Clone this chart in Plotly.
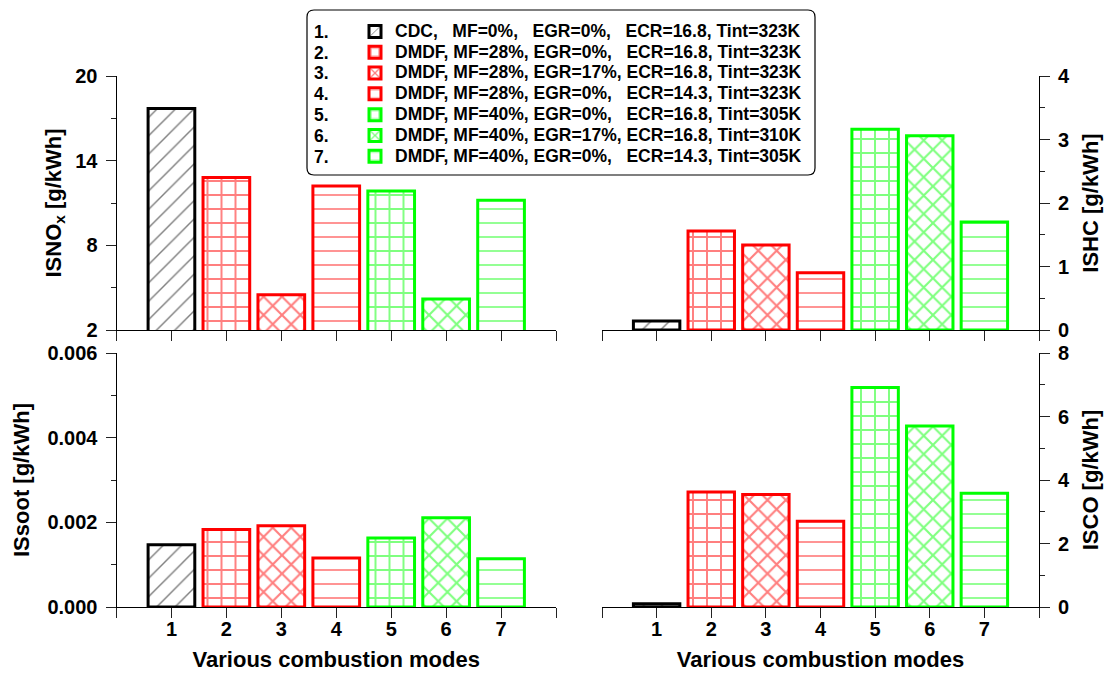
import plotly.graph_objects as go

# ---------------- data ----------------
modes = [1, 2, 3, 4, 5, 6, 7]
mode_ticktext = ["1", "2", "3", "4", "5", "6", "7"]
axis_end_ticks = [0, 8]
mode_numbers = ["1.", "2.", "3.", "4.", "5.", "6.", "7."]
legend_labels = [
    "CDC,   MF=0%,   EGR=0%,   ECR=16.8, Tint=323K",
    "DMDF, MF=28%, EGR=0%,   ECR=16.8, Tint=323K",
    "DMDF, MF=28%, EGR=17%, ECR=16.8, Tint=323K",
    "DMDF, MF=28%, EGR=0%,   ECR=14.3, Tint=323K",
    "DMDF, MF=40%, EGR=0%,   ECR=16.8, Tint=305K",
    "DMDF, MF=40%, EGR=17%, ECR=16.8, Tint=310K",
    "DMDF, MF=40%, EGR=0%,   ECR=14.3, Tint=305K",
]
isnox = [17.7, 12.8, 4.5, 12.2, 11.85, 4.2, 11.2]
ishc = [0.14, 1.56, 1.34, 0.90, 3.16, 3.06, 1.70]
issoot = [0.00147, 0.00183, 0.00192, 0.00116, 0.00163, 0.00211, 0.00114]
isco = [0.10, 3.62, 3.54, 2.70, 6.91, 5.70, 3.58]

colors = ["#000000", "#FF0000", "#FF0000", "#FF0000", "#00FF00", "#00FF00", "#00FF00"]
patterns = ["/", "+", "x", "-", "+", "x", "-"]
pattern_sizes = {"/": 13, "+": 14, "x": 13, "-": 14}
pattern_solidity = {"/": 0.11, "+": 0.26, "x": 0.3, "-": 0.12}

# ---------------- layout helpers ----------------
W, H = 1108, 673
FONT = "Liberation Sans, Arial, sans-serif"


def fx(p):
    return p / W


def fy(p):
    return 1 - p / H


panels = [
    dict(values=isnox, xa="x", ya="y", legend=True),
    dict(values=ishc, xa="x2", ya="y2", legend=False),
    dict(values=issoot, xa="x3", ya="y3", legend=False),
    dict(values=isco, xa="x4", ya="y4", legend=False),
]

fig = go.Figure()
for p in panels:
    for i, m in enumerate(modes):
        shp = patterns[i]
        fig.add_trace(go.Bar(
            x=[m], y=[p["values"][i]],
            xaxis=p["xa"], yaxis=p["ya"],
            width=0.85,
            name='<span style="font-size:17.5px">' + legend_labels[i].replace(" ", "\u00a0") + "</span>",
            showlegend=p["legend"],
            marker=dict(
                color="white",
                line=dict(color=colors[i], width=3),
                pattern=dict(shape=shp, fgcolor=colors[i], bgcolor="white",
                             size=pattern_sizes[shp], solidity=pattern_solidity[shp],
                             fillmode="overlay"),
            ),
            hoverinfo="skip",
        ))

tick_font = dict(family=FONT, size=20, color="black", weight="bold")
title_font = dict(family=FONT, size=22, color="black", weight="bold")

xcommon = dict(range=[0, 8], tickmode="array", tickvals=modes, ticktext=mode_ticktext,
               ticks="outside", ticklen=10, tickwidth=1, tickcolor="#222",
               minor=dict(tickmode="array", tickvals=axis_end_ticks, ticks="outside",
                          ticklen=10, tickwidth=1, tickcolor="#222"),
               showline=True, linecolor="black", linewidth=1, automargin=False,
               showgrid=False, zeroline=False, tickfont=tick_font, fixedrange=True,
               ticklabelstandoff=-6)
ycommon = dict(ticks="outside", ticklen=10, tickwidth=1, tickcolor="#222",
               showline=True, linecolor="black", linewidth=1, automargin=False,
               showgrid=False, zeroline=False, tickfont=tick_font, fixedrange=True,
               ticklabelstandoff=4)

left_dom = [fx(116.5), fx(556)]
right_dom = [fx(602), fx(1039)]
top_dom = [fy(330), fy(76)]
bot_dom = [fy(607), fy(353)]

fig.update_layout(
    template="none",
    width=W, height=H,
    margin=dict(l=0, r=0, t=0, b=0, pad=0),
    paper_bgcolor="white", plot_bgcolor="white",
    barmode="overlay",
    font=dict(family=FONT, color="black"),
    xaxis=dict(domain=left_dom, anchor="y", showticklabels=False, **xcommon),
    xaxis2=dict(domain=right_dom, anchor="y2", showticklabels=False, **xcommon),
    xaxis3=dict(domain=left_dom, anchor="y3",
                title=dict(text="Various combustion modes", font=title_font, standoff=12), **xcommon),
    xaxis4=dict(domain=right_dom, anchor="y4",
                title=dict(text="Various combustion modes", font=title_font, standoff=12), **xcommon),
    yaxis=dict(domain=top_dom, anchor="x", range=[2, 20], tick0=2, dtick=6,
               minor=dict(ticks="outside", ticklen=5, tick0=2, dtick=3, tickcolor="#222"),
               **ycommon),
    yaxis2=dict(domain=top_dom, anchor="x2", side="right", range=[0, 4], tick0=0, dtick=1,
                minor=dict(ticks="outside", ticklen=5, tick0=0, dtick=0.5, tickcolor="#222"),
                title=dict(text="ISHC [g/kWh]", font=title_font, standoff=13), **ycommon),
    yaxis3=dict(domain=bot_dom, anchor="x3", range=[0, 0.006], tick0=0, dtick=0.002, tickformat=".3f",
                minor=dict(ticks="outside", ticklen=5, tick0=0, dtick=0.001, tickcolor="#222"),
                title=dict(text="ISsoot [g/kWh]", font=title_font, standoff=11), **ycommon),
    yaxis4=dict(domain=bot_dom, anchor="x4", side="right", range=[0, 8], tick0=0, dtick=2,
                minor=dict(ticks="outside", ticklen=5, tick0=0, dtick=1, tickcolor="#222"),
                title=dict(text="ISCO [g/kWh]", font=title_font, standoff=13), **ycommon),
    legend=dict(x=fx(355), y=fy(16), xanchor="left", yanchor="top",
                bgcolor="rgba(0,0,0,0)", borderwidth=0, traceorder="normal",
                font=dict(family=FONT, size=13.7, color="black", weight="bold"),
                itemclick=False, itemdoubleclick=False),
)

# y title of the NOx panel (placed as rotated text beside its axis)
fig.add_annotation(x=fx(54.5), y=fy(203), xref="paper", yref="paper",
                   xanchor="center", yanchor="middle", showarrow=False, textangle=-90,
                   text="ISNO<sub>x</sub> [g/kWh]", font=title_font)

# rounded legend frame
x0, x1, y0, y1, r = 307, 815, 10, 175, 7
path = (f"M {fx(x0 + r)},{fy(y0)} L {fx(x1 - r)},{fy(y0)} Q {fx(x1)},{fy(y0)} {fx(x1)},{fy(y0 + r)} "
        f"L {fx(x1)},{fy(y1 - r)} Q {fx(x1)},{fy(y1)} {fx(x1 - r)},{fy(y1)} "
        f"L {fx(x0 + r)},{fy(y1)} Q {fx(x0)},{fy(y1)} {fx(x0)},{fy(y1 - r)} "
        f"L {fx(x0)},{fy(y0 + r)} Q {fx(x0)},{fy(y0)} {fx(x0 + r)},{fy(y0)} Z")
fig.add_shape(type="path", path=path, xref="paper", yref="paper",
              line=dict(color="black", width=1.2), fillcolor="white", layer="above")

row0, row_step = 31.8, 20.8
for i, lab in enumerate(mode_numbers):
    fig.add_annotation(x=fx(331), y=fy(row0 + i * row_step), xref="paper", yref="paper",
                       xanchor="right", yanchor="middle", showarrow=False, text=lab,
                       font=dict(family=FONT, size=17.5, color="black", weight="bold"))

fig.write_html("out.html", include_plotlyjs=True, full_html=True,
               config={"displayModeBar": False},
               post_script="document.body.style.margin='0';document.body.style.overflow='hidden';")
